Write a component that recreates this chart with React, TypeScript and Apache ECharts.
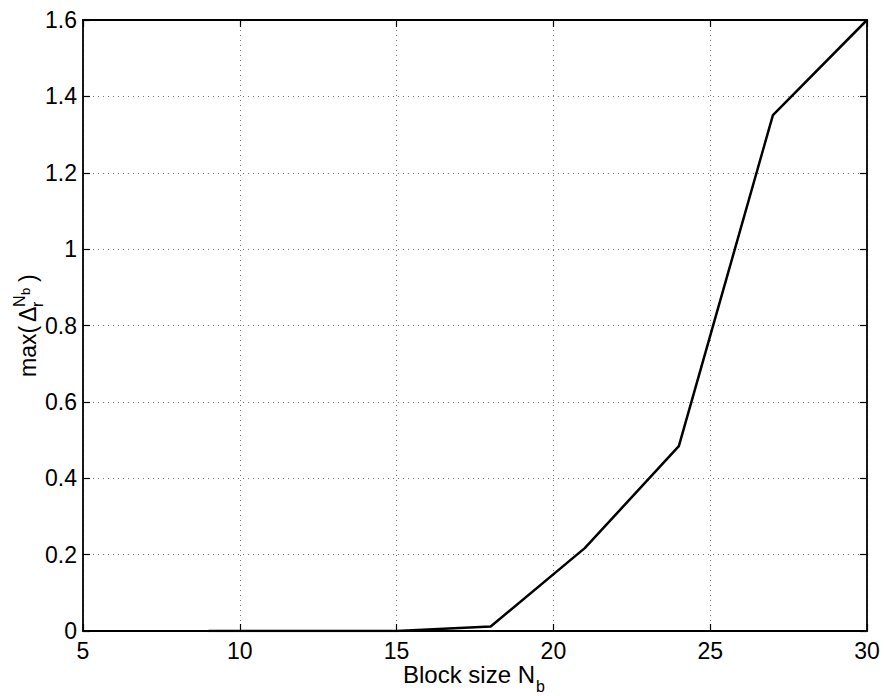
import React, { useEffect, useRef } from "react";
import * as echarts from "echarts";

const blockSizes = [9, 12, 15, 18, 21, 24, 27, 30];
const maxDelta = [0, 0, 0, 0.012, 0.217, 0.484, 1.351, 1.6];
const xTicks = { min: 5, max: 30, interval: 5 };
const yTicks = { min: 0, max: 1.6, interval: 0.2 };

const FONT = "Liberation Sans, Arial, Helvetica, sans-serif";

export default function App() {
  const ref = useRef<HTMLDivElement>(null);
  useEffect(() => {
    if (!ref.current) return;
    const chart = echarts.init(ref.current, null, { renderer: "svg" });
    const tickStyle = { show: true, inside: true, length: 7, lineStyle: { color: "#000", width: 1.2 } };
    const axisLine = { show: true, onZero: false, lineStyle: { color: "#000", width: 1.8 } };
    const split = { show: true, lineStyle: { color: "#777", width: 1, type: [1, 4] as any } };
    const labelStyle = { color: "#000", fontSize: 23, fontFamily: FONT };
    const fmtY = (v: number) => String(Number(v.toFixed(1)));
    chart.setOption({
      animation: false,
      backgroundColor: "#fff",
      grid: { left: 83, right: 17, top: 20, bottom: 65, containLabel: false },
      xAxis: [
        {
          type: "value", ...xTicks, position: "bottom",
          axisLine, axisTick: tickStyle, splitLine: split,
          axisLabel: { ...labelStyle, margin: 8 },
        },
        {
          type: "value", ...xTicks, position: "top",
          axisLine, axisTick: tickStyle, splitLine: { show: false },
          axisLabel: { show: false },
        },
      ],
      yAxis: [
        {
          type: "value", ...yTicks, position: "left",
          axisLine, axisTick: tickStyle, splitLine: split,
          axisLabel: { ...labelStyle, margin: 6, formatter: fmtY },
        },
        {
          type: "value", ...yTicks, position: "right",
          axisLine, axisTick: tickStyle, splitLine: { show: false },
          axisLabel: { show: false },
        },
      ],
      series: [
        {
          type: "line",
          xAxisIndex: 0,
          yAxisIndex: 0,
          data: blockSizes.map((x, i) => [x, maxDelta[i]]),
          showSymbol: false,
          lineStyle: { color: "#000", width: 2.5 },
        },
      ],
      graphic: [
        {
          type: "group",
          x: 403,
          y: 686,
          children: [
            { type: "text", x: 0, y: 0, style: { text: "Block size N", font: `24px ${FONT}`, fill: "#000", textVerticalAlign: "bottom" } },
            { type: "text", x: 133, y: 8, style: { text: "b", font: `16px ${FONT}`, fill: "#000", textVerticalAlign: "bottom" } },
          ],
        },
        {
          type: "group",
          x: 39,
          y: 377,
          rotation: Math.PI / 2,
          children: [
            { type: "text", x: 0, y: 0, style: { text: "max(", font: `23px ${FONT}`, fill: "#000", textVerticalAlign: "bottom" } },
            { type: "text", x: 55, y: 0, style: { text: "Δ", font: `23px ${FONT}`, fill: "#000", textVerticalAlign: "bottom" } },
            { type: "text", x: 70, y: 6, style: { text: "r", font: `16px ${FONT}`, fill: "#000", textVerticalAlign: "bottom" } },
            { type: "text", x: 70, y: -12, style: { text: "N", font: `16px ${FONT}`, fill: "#000", textVerticalAlign: "bottom" } },
            { type: "text", x: 82, y: -7, style: { text: "b", font: `13px ${FONT}`, fill: "#000", textVerticalAlign: "bottom" } },
            { type: "text", x: 95, y: 0, style: { text: ")", font: `23px ${FONT}`, fill: "#000", textVerticalAlign: "bottom" } },
          ],
        },
      ],
    });
    return () => chart.dispose();
  }, []);
  return <div ref={ref} style={{ position: "fixed", left: 0, top: 0, width: 884, height: 696 }} />;
}
